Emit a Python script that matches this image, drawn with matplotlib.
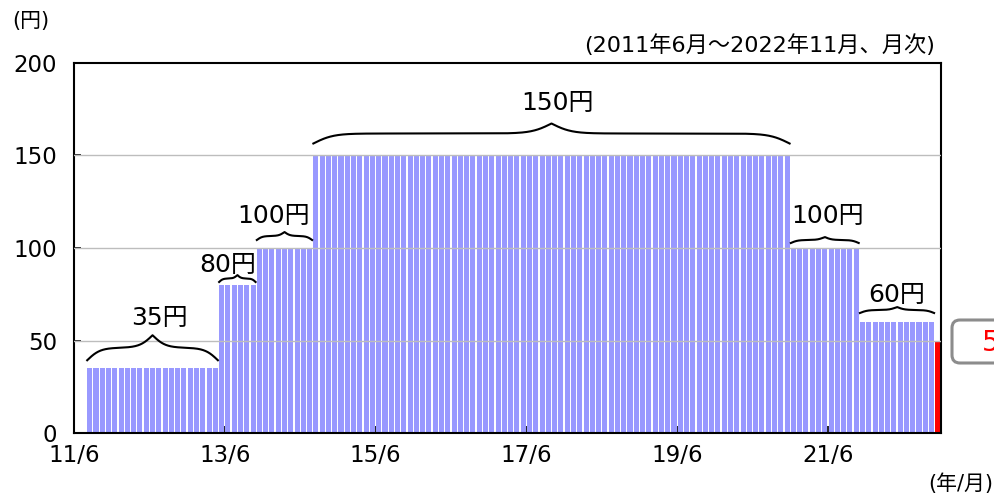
import numpy as np
import matplotlib.pyplot as plt
from matplotlib.patches import FancyBboxPatch

plt.rcParams['font.family'] = ['DejaVu Sans', 'Noto Sans CJK JP']

# monthly series 2011/6 - 2022/11 (first two months have no value)
n_months = 138
levels = [35, 80, 100, 150, 100, 60, 50]
durations = [21, 6, 9, 76, 11, 12, 1]
blank_months = 2
level_labels = ['35円', '80円', '100円', '150円', '100円', '60円']
tick_labels = ['11/6', '13/6', '15/6', '17/6', '19/6', '21/6']

values = np.full(n_months, np.nan)
seg_bounds = []
i = blank_months
for v, d in zip(levels, durations):
    values[i:i + d] = v
    seg_bounds.append((i, i + d - 1, v))
    i += d

x = np.arange(n_months)
colors = ['#9999ff'] * n_months
colors[-1] = '#ff0000'

fig = plt.figure(figsize=(9.94, 4.95), dpi=100)
ax = fig.add_axes([74 / 994, 62 / 495, 867 / 994, 370 / 495])

ax.bar(x, values, width=0.8, color=colors, zorder=2)
ax.set_xlim(-0.5, n_months - 0.5)
ax.set_ylim(0, 200)

for yv in [50, 100, 150]:
    ax.axhline(yv, color='#bdbdbd', linewidth=1.0, zorder=3)

ax.set_yticks([0, 50, 100, 150, 200])
ax.set_xticks(np.arange(len(tick_labels)) * 24 - 0.5)
ax.set_xticklabels(tick_labels)
ax.tick_params(axis='both', direction='in', length=5, width=1.2, labelsize=16.5)
ax.tick_params(axis='y', pad=12)
ax.tick_params(axis='x', pad=8)
for sp in ax.spines.values():
    sp.set_linewidth(1.5)

# pixel scale of the data units
p0 = ax.transData.transform((0, 0))
p1 = ax.transData.transform((1, 1))
px_x = p1[0] - p0[0]
px_y = p1[1] - p0[1]


def draw_brace(ax, xa, xb, ybase, h):
    w = (xb - xa) * px_x
    half = w / 2
    beta = max(0.1, 10.0 / half)
    t = np.linspace(0, half, 300)
    yh = 1 / (1 + np.exp(-beta * t)) + 1 / (1 + np.exp(-beta * (t - half)))
    yh = (yh - yh[0]) / (yh[-1] - yh[0]) * h
    xs = np.concatenate([t, w - t[::-1]])
    ys = np.concatenate([yh, yh[::-1]])
    ax.plot(xa + xs / px_x, ybase + ys / px_y, color='black', lw=1.5,
            zorder=4, clip_on=False)
    return ybase + h / px_y


# brace styling in pixels: gap above bars, brace height, label gap, label shift
brace_gap = [8, 3, 8, 12, 5, 9]
brace_h = [25, 7, 8, 20, 6, 6]
label_gap = [10, 3, 9, 14, 14, 5]
label_dx = [7, -10, -11, 6, 3, 0]
for k, ((a, b, v), lab) in enumerate(zip(seg_bounds[:-1], level_labels)):
    top = draw_brace(ax, a - 0.4, b + 0.4, v + brace_gap[k] / px_y, brace_h[k])
    ax.text((a + b) / 2 + label_dx[k] / px_x, top + label_gap[k] / px_y, lab,
            ha='center', va='baseline', fontsize=18)

fig.text(12 / 994, 1 - 21 / 495, '(円)', fontsize=15, va='center', ha='left')
fig.text(935 / 994, 1 - 45 / 495, '(2011年6月～2022年11月、月次)', fontsize=16,
         va='center', ha='right')
fig.text(993 / 994, 1 - 484 / 495, '(年/月)', fontsize=15, va='center',
         ha='right')

# callout box for the latest value
box = FancyBboxPatch((952, 495 - 363), 80, 43,
                     boxstyle='round,pad=0,rounding_size=8',
                     transform=None, facecolor='white', edgecolor='#8c8c8c',
                     linewidth=2.2, clip_on=False)
fig.patches.append(box)
fig.text(982 / 994, 1 - 343 / 495, '50円', color='#ff0000', fontsize=20,
         va='center', ha='left')

fig.savefig('out.png', dpi=100)
